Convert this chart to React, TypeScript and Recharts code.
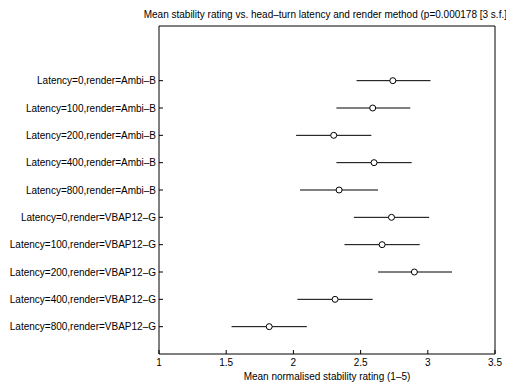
import { ScatterChart, Scatter, XAxis, YAxis, ErrorBar } from 'recharts';

const labels = [
  'Latency=0,render=Ambi–B',
  'Latency=100,render=Ambi–B',
  'Latency=200,render=Ambi–B',
  'Latency=400,render=Ambi–B',
  'Latency=800,render=Ambi–B',
  'Latency=0,render=VBAP12–G',
  'Latency=100,render=VBAP12–G',
  'Latency=200,render=VBAP12–G',
  'Latency=400,render=VBAP12–G',
  'Latency=800,render=VBAP12–G',
];
const means = [2.74, 2.59, 2.3, 2.6, 2.34, 2.73, 2.66, 2.9, 2.31, 1.82];
const lows = [2.47, 2.32, 2.02, 2.32, 2.05, 2.45, 2.38, 2.63, 2.03, 1.54];
const highs = [3.02, 2.87, 2.58, 2.88, 2.63, 3.01, 2.94, 3.18, 2.59, 2.1];
const xTicks = [1, 1.5, 2, 2.5, 3, 3.5];
const yTicks = [1, 2, 3, 4, 5, 6, 7, 8, 9, 10];

const title = 'Mean stability rating vs. head–turn latency and render method (p=0.000178 [3 s.f.])';
const xTitle = 'Mean normalised stability rating (1–5)';

const data = labels.map((name, i) => ({
  name,
  pos: labels.length - i,
  mean: means[i],
  err: [means[i] - lows[i], highs[i] - means[i]],
}));

const font = 'Liberation Sans, Arial, Helvetica, sans-serif';
const tickStyle = { fill: '#000', fontSize: 10, fontFamily: font };

const Marker = (p: any) => (
  <circle cx={p.cx} cy={p.cy} r={3} fill="#fff" stroke="#000" strokeWidth={1} />
);

export default function App() {
  return (
    <div style={{ position: 'absolute', left: 0, top: 0, background: '#fff' }}>
      <ScatterChart width={506} height={383} margin={{ top: 25, right: 10, bottom: 0, left: 0 }}>
        <XAxis
          dataKey="mean"
          type="number"
          domain={[1, 3.5]}
          ticks={xTicks}
          interval={0}
          height={29}
          tickSize={-4}
          tickMargin={9}
          tick={tickStyle}
          stroke="#000"
          axisLine={{ stroke: '#000' }}
          tickLine={{ stroke: '#000' }}
          label={{ value: xTitle, position: 'insideBottom', offset: 3, fill: '#000', fontSize: 10, fontFamily: font }}
        />
        <XAxis
          xAxisId="top"
          orientation="top"
          type="number"
          domain={[1, 3.5]}
          ticks={xTicks}
          interval={0}
          height={1}
          tickSize={-4}
          tick={false}
          axisLine={{ stroke: '#000' }}
          tickLine={{ stroke: '#000' }}
          label={{ value: title, position: 'top', offset: 7, fill: '#000', fontSize: 10, fontFamily: font }}
        />
        <YAxis
          dataKey="pos"
          type="number"
          domain={[0, 12]}
          ticks={yTicks}
          interval={0}
          width={159}
          tickSize={-4}
          tickMargin={7}
          tick={tickStyle}
          tickFormatter={(v: number) => labels[labels.length - v]}
          axisLine={{ stroke: '#000' }}
          tickLine={{ stroke: '#000' }}
        />
        <YAxis
          yAxisId="right"
          orientation="right"
          type="number"
          domain={[0, 12]}
          ticks={yTicks}
          interval={0}
          width={1}
          tickSize={-4}
          tick={false}
          axisLine={{ stroke: '#000' }}
          tickLine={{ stroke: '#000' }}
        />
        <Scatter data={data} shape={Marker} isAnimationActive={false}>
          <ErrorBar dataKey="err" direction="x" width={0} stroke="#000" strokeWidth={1} isAnimationActive={false} />
        </Scatter>
      </ScatterChart>
    </div>
  );
}
